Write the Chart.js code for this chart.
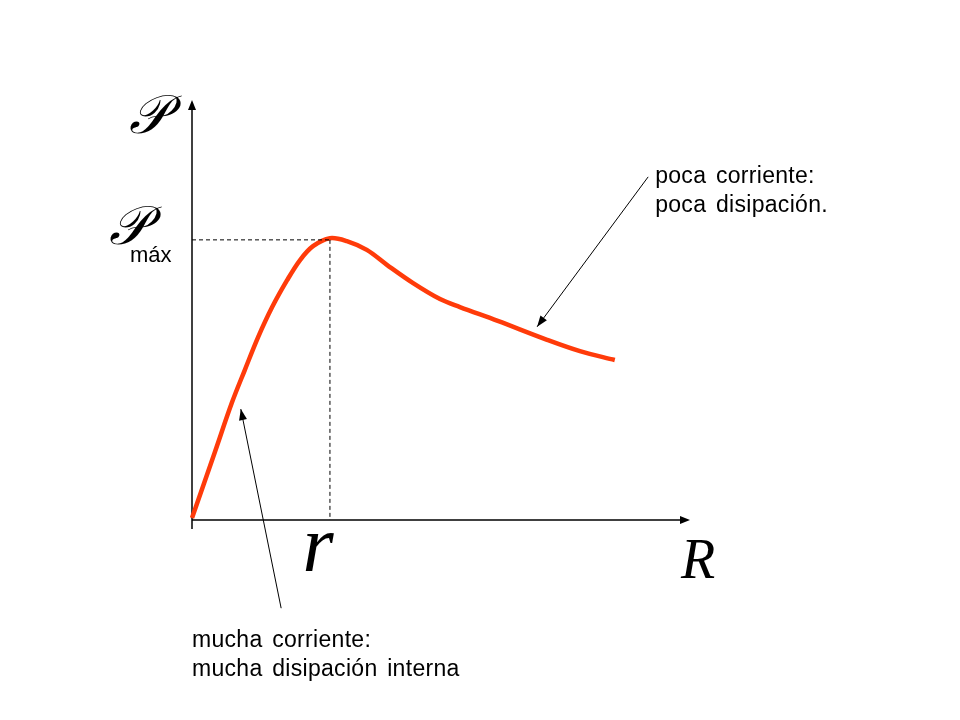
<!DOCTYPE html>
<html>
<head>
<meta charset="utf-8">
<script src="https://cdn.jsdelivr.net/npm/chart.js@4/dist/chart.umd.min.js"></script>
<style>
html,body{margin:0;padding:0;background:#fff;}
#wrap{width:960px;height:720px;}
</style>
</head>
<body>
<div id="wrap"><canvas id="c" width="960" height="720"></canvas></div>
<script>
// Curve P(R)
const rValues = [0, 4.6, 8.0, 10.6, 13.3, 16.1, 19.1, 21.7, 24.3, 27.7, 31.1, 35.1, 39.2, 44.4, 49.8, 53.8, 61.4, 71.3, 77.9, 84.9];
const pValues = [0.5, 16.2, 27.9, 35.7, 43.6, 50.7, 57.1, 61.9, 65.2, 67.1, 66.4, 64.3, 60.7, 56.4, 52.6, 50.7, 47.4, 42.9, 40.2, 38.1];
// Maximum point (r, Pmax)
const peakR = [27.7];
const peakP = [66.7];
// Annotation arrows [fromX, fromY, toX, toY]
const arrowHigh = [91.6, 81.7, 69.3, 46.0];
const arrowLow = [17.9, -21.0, 9.8, 26.4];
const labelsHigh = ["poca corriente:", "poca disipación."];
const labelsLow = ["mucha corriente:", "mucha disipación interna"];

const curve = rValues.map((x, i) => ({x: x, y: pValues[i]}));
const hDash = [{x: 0, y: peakP[0]}, {x: peakR[0], y: peakP[0]}];
const vDash = [{x: peakR[0], y: peakP[0]}, {x: peakR[0], y: 0}];

function arrowHead(ctx, x1, y1, x2, y2, len, wid) {
  const a = Math.atan2(y2 - y1, x2 - x1);
  ctx.beginPath();
  ctx.moveTo(x2, y2);
  ctx.lineTo(x2 - len * Math.cos(a) + wid * Math.sin(a), y2 - len * Math.sin(a) - wid * Math.cos(a));
  ctx.lineTo(x2 - len * Math.cos(a) - wid * Math.sin(a), y2 - len * Math.sin(a) + wid * Math.cos(a));
  ctx.closePath();
  ctx.fill();
}

const decor = {
  id: 'decor',
  beforeDatasetsDraw(chart) {
    const ctx = chart.ctx;
    const xs = chart.scales.x, ys = chart.scales.y;
    const x0 = xs.getPixelForValue(0), y0 = ys.getPixelForValue(0);
    const xEnd = xs.getPixelForValue(xs.max), yEnd = ys.getPixelForValue(ys.max);
    ctx.save();
    ctx.strokeStyle = '#000';
    ctx.fillStyle = '#000';
    ctx.lineWidth = 1.5;
    ctx.beginPath();
    ctx.moveTo(x0, y0);
    ctx.lineTo(xEnd - 4, y0);
    ctx.stroke();
    arrowHead(ctx, x0, y0, xEnd, y0, 10, 4);
    ctx.beginPath();
    ctx.moveTo(x0, y0 + 9);
    ctx.lineTo(x0, yEnd + 4);
    ctx.stroke();
    arrowHead(ctx, x0, y0, x0, yEnd, 10, 4);
    ctx.restore();
  },
  afterDatasetsDraw(chart) {
    const ctx = chart.ctx;
    const xs = chart.scales.x, ys = chart.scales.y;
    const px = v => xs.getPixelForValue(v), py = v => ys.getPixelForValue(v);
    ctx.save();
    ctx.strokeStyle = '#000';
    ctx.fillStyle = '#000';
    ctx.lineWidth = 1;
    [arrowHigh, arrowLow].forEach(a => {
      const x1 = px(a[0]), y1 = py(a[1]), x2 = px(a[2]), y2 = py(a[3]);
      ctx.beginPath();
      ctx.moveTo(x1, y1);
      ctx.lineTo(x2, y2);
      ctx.stroke();
      arrowHead(ctx, x1, y1, x2, y2, 11, 4);
    });
    // annotation labels
    ctx.font = '23px "Liberation Sans", Arial, sans-serif';
    ctx.letterSpacing = '0.3px';
    ctx.wordSpacing = '3px';
    ctx.textBaseline = 'middle';
    ctx.textAlign = 'left';
    const hx = px(arrowHigh[0]) + 7, hy = py(arrowHigh[1]);
    labelsHigh.forEach((t, i) => ctx.fillText(t, hx, hy + i * 29));
    const lx = px(0), ly = py(arrowLow[1]) + 32;
    labelsLow.forEach((t, i) => ctx.fillText(t, lx, ly + i * 29));
    ctx.letterSpacing = '0px';
    ctx.wordSpacing = '0px';
    // axis symbols
    const x0 = px(0), y0 = py(0);
    ctx.font = 'italic 80px "Liberation Serif", "Times New Roman", serif';
    ctx.textAlign = 'center';
    ctx.textBaseline = 'alphabetic';
    ctx.fillText('r', px(peakR[0]) - 12, y0 + 51);
    ctx.font = 'italic 56px "Liberation Serif", "Times New Roman", serif';
    ctx.fillText('R', px(xs.max) + 8, y0 + 58);
    // script P symbols
    ctx.font = 'italic 54px "DejaVu Serif", "Liberation Serif", serif';
    ctx.fillText('\u{1D4AB}', x0 - 44, py(ys.max) + 33);
    ctx.fillText('\u{1D4AB}', x0 - 64, py(peakP[0]) + 4);
    ctx.font = '22px "Liberation Sans", Arial, sans-serif';
    ctx.textAlign = 'left';
    ctx.textBaseline = 'middle';
    ctx.fillText('máx', x0 - 62, py(peakP[0]) + 16);
    ctx.restore();
  }
};

new Chart(document.getElementById('c'), {
  type: 'scatter',
  data: {
    datasets: [
      {data: hDash, showLine: true, borderColor: '#000', borderWidth: 1, borderDash: [4, 3], pointRadius: 0, tension: 0},
      {data: vDash, showLine: true, borderColor: '#000', borderWidth: 1, borderDash: [4, 3], pointRadius: 0, tension: 0},
      {data: curve, showLine: true, borderColor: '#FF3B0A', borderWidth: 4.5, pointRadius: 0, tension: 0.35, clip: false, borderCapStyle: 'butt'}
    ]
  },
  options: {
    responsive: false,
    animation: false,
    devicePixelRatio: 1,
    layout: {padding: {left: 192, right: 270, top: 100, bottom: 200}},
    plugins: {legend: {display: false}, tooltip: {enabled: false}},
    scales: {
      x: {type: 'linear', min: 0, max: 100, display: false},
      y: {type: 'linear', min: 0, max: 100, display: false}
    }
  },
  plugins: [decor]
});
</script>
</body>
</html>
